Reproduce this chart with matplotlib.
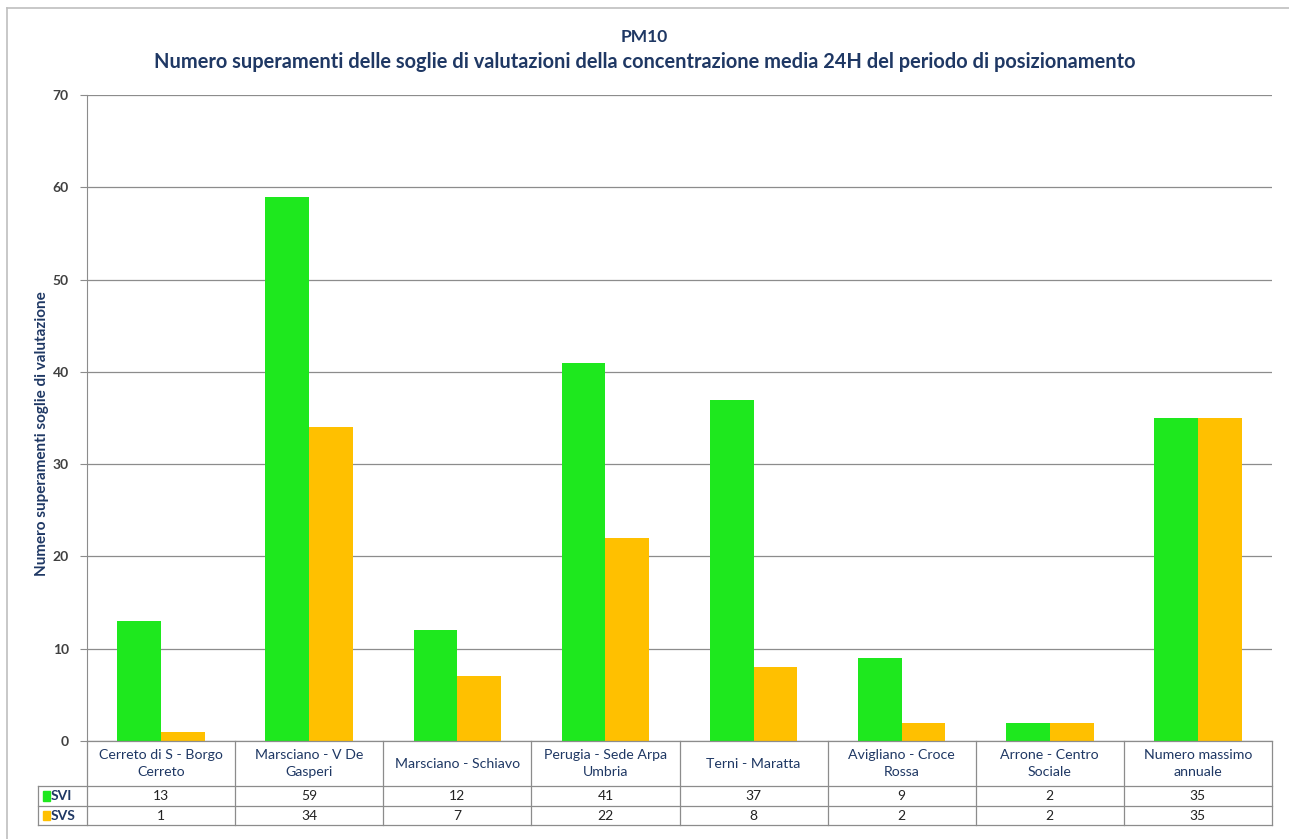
import matplotlib
matplotlib.use('Agg')
import matplotlib.pyplot as plt
from matplotlib.lines import Line2D
import numpy as np

# dati del grafico
categorie = ['Cerreto di S - Borgo\nCerreto', 'Marsciano - V De\nGasperi', 'Marsciano - Schiavo',
             'Perugia - Sede Arpa\nUmbria', 'Terni - Maratta', 'Avigliano - Croce\nRossa',
             'Arrone - Centro\nSociale', 'Numero massimo\nannuale']
svi = [13, 59, 12, 41, 37, 9, 2, 35]
svs = [1, 34, 7, 22, 8, 2, 2, 35]
serie = ['SVI', 'SVS']
colori = ['#1EE81E', '#FFC000']
y_ticks = [0, 10, 20, 30, 40, 50, 60, 70]

titolo = 'PM10'
sottotitolo = ('Numero superamenti delle soglie di valutazioni della concentrazione media 24H '
               'del periodo di posizionamento')
ylabel = 'Numero superamenti soglie di valutazione'

plt.rcParams['font.family'] = ['Lato', 'DejaVu Sans']
NAVY = '#1F3864'
GRID = '#8C8C8C'

W, H = 1289, 839
fig = plt.figure(figsize=(W / 100, H / 100), dpi=100)


def fx(px):
    return px / W


def fy(py):
    return 1 - py / H


# area del grafico (in pixel)
left, right, top, bottom = 87, 1272, 95, 741
ax = fig.add_axes([fx(left), fy(bottom), fx(right - left), (bottom - top) / H])

x = np.arange(len(categorie))
w = 0.295
ax.bar(x - w / 2, svi, width=w, color=colori[0], zorder=3)
ax.bar(x + w / 2, svs, width=w, color=colori[1], zorder=3)

ax.set_xlim(-0.5, len(categorie) - 0.5)
ax.set_ylim(0, 70)
ax.set_yticks(y_ticks)
ax.set_yticklabels([str(v) for v in y_ticks], fontsize=10, fontweight='bold', color='#404040')
ax.set_xticks([])
ax.yaxis.grid(True, color=GRID, linewidth=0.9, zorder=0)
for s in ['top', 'right', 'bottom']:
    ax.spines[s].set_visible(False)
ax.spines['left'].set_color(GRID)
ax.tick_params(axis='y', length=5, color=GRID, pad=8)

fig.text(fx(42), fy(434), ylabel, rotation=90, ha='center', va='center', fontsize=11,
         fontweight='bold', color=NAVY)

# titolo
fig.text(0.5, fy(37), titolo, ha='center', va='center', fontsize=12.5, fontweight='bold', color=NAVY)
fig.text(0.5, fy(62), sottotitolo, ha='center', va='center', fontsize=14.4, fontweight='bold',
         color=NAVY)

# tabella dati
col_w = (right - left) / len(categorie)
tab_left = 38
r_head, r_svi, r_svs = 786, 806, 825


def hline(x0, x1, y):
    fig.add_artist(Line2D([fx(x0), fx(x1)], [fy(y), fy(y)], color=GRID, linewidth=0.9))


def vline(xp, y0, y1):
    fig.add_artist(Line2D([fx(xp), fx(xp)], [fy(y0), fy(y1)], color=GRID, linewidth=0.9))


hline(left, right, bottom)
for yy in [r_head, r_svi, r_svs]:
    hline(tab_left, right, yy)
for i in range(len(categorie) + 1):
    vline(left + i * col_w, bottom, r_svs)
vline(tab_left, r_head, r_svs)

for i, cat in enumerate(categorie):
    cx = left + (i + 0.5) * col_w
    fig.text(fx(cx), fy((bottom + r_head) / 2), cat, ha='center', va='center', fontsize=10.2,
             color=NAVY, linespacing=1.45)
    fig.text(fx(cx), fy((r_head + r_svi) / 2), str(svi[i]), ha='center', va='center',
             fontsize=10, color='#222222')
    fig.text(fx(cx), fy((r_svi + r_svs) / 2), str(svs[i]), ha='center', va='center',
             fontsize=10, color='#222222')

for j, (nome, col) in enumerate(zip(serie, colori)):
    y0 = [r_head, r_svi][j]
    y1 = [r_svi, r_svs][j]
    fig.patches.append(plt.Rectangle((fx(43), fy(y1 - 5)), fx(7), (y1 - y0 - 10) / H,
                                     color=col, transform=fig.transFigure, figure=fig))
    fig.text(fx(51), fy((y0 + y1) / 2), nome, ha='left', va='center', fontsize=10,
             fontweight='bold', color=NAVY)

# cornice esterna
fig.add_artist(Line2D([fx(7), fx(7)], [fy(8), 0], color='#BFBFBF', linewidth=1.2))
fig.add_artist(Line2D([fx(7), 1], [fy(8), fy(8)], color='#BFBFBF', linewidth=1.2))

fig.savefig('out.png', dpi=100)
